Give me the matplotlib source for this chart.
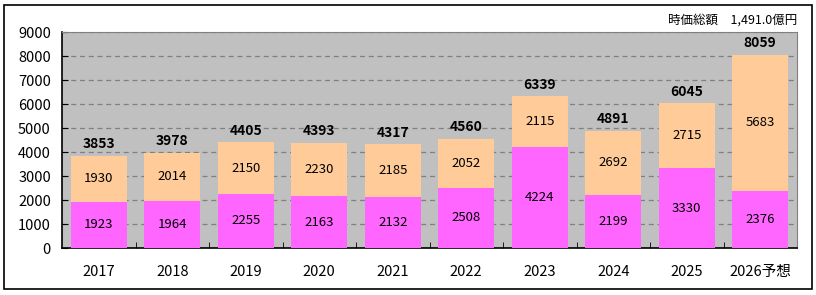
import matplotlib
matplotlib.use("Agg")
import matplotlib.pyplot as plt
from matplotlib.patches import Rectangle

plt.rcParams['font.family'] = ['Noto Sans CJK JP', 'DejaVu Sans']

years = ["2017", "2018", "2019", "2020", "2021", "2022", "2023", "2024", "2025", "2026予想"]
lower = [1923, 1964, 2255, 2163, 2132, 2508, 4224, 2199, 3330, 2376]
upper = [1930, 2014, 2150, 2230, 2185, 2052, 2115, 2692, 2715, 5683]
totals = [3853, 3978, 4405, 4393, 4317, 4560, 6339, 4891, 6045, 8059]
note = "時価総額　1,491.0億円"

pink = "#FF66FF"
peach = "#FFCC99"
grey = "#C0C0C0"

fig = plt.figure(figsize=(8.16, 2.95), dpi=100)
fig.patch.set_facecolor("white")
fig.patches.append(Rectangle((4 / 816, 1 - 289 / 295), 808 / 816, 284 / 295,
                             transform=fig.transFigure, fill=False,
                             edgecolor="black", linewidth=1.2))

ax = fig.add_axes([62 / 816, 1 - 248 / 295, 735 / 816, 216 / 295])
ax.set_facecolor(grey)

x = list(range(len(years)))
w = 0.76
ax.bar(x, lower, width=w, color=pink, zorder=3)
ax.bar(x, upper, width=w, bottom=lower, color=peach, zorder=3)

for i in x:
    ax.text(i, lower[i] / 2, str(lower[i]), ha="center", va="center", fontsize=9.5, zorder=4)
    ax.text(i, lower[i] + upper[i] / 2, str(upper[i]), ha="center", va="center", fontsize=9.5, zorder=4)
    ax.text(i, totals[i] + 180, str(totals[i]), ha="center", va="bottom",
            fontsize=10, fontweight="bold", zorder=4)

ax.set_xlim(-0.5, len(years) - 0.5)
ax.set_ylim(0, 9000)
ax.set_yticks(range(0, 9001, 1000))
ax.yaxis.grid(True, linestyle=(0, (4, 3)), color="#808080", linewidth=0.9, zorder=1)
ax.set_axisbelow(True)

ax.set_xticks(x)
ax.set_xticklabels(years, fontsize=10.5)
ax.set_xticks([i + 0.5 for i in x[:-1]], minor=True)
ax.tick_params(axis="x", which="major", length=0, pad=12)
ax.tick_params(axis="x", which="minor", direction="in", length=4, color="black")
ax.tick_params(axis="y", direction="in", length=4, labelsize=10.5, pad=8)

for s in ["top", "right"]:
    ax.spines[s].set_color("#808080")
for s in ["left", "bottom"]:
    ax.spines[s].set_color("black")
    ax.spines[s].set_linewidth(1.2)

fig.text(797 / 816, 1 - 20 / 295, note, ha="right", va="center", fontsize=9)

fig.savefig("out.png", dpi=100)
